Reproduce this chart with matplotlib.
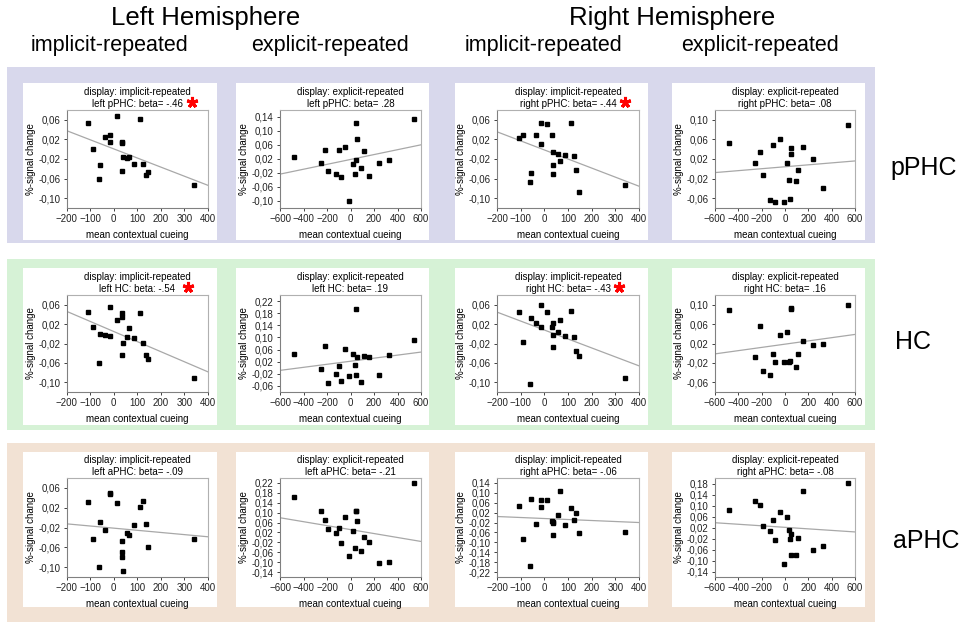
"""
Contextual cueing vs. %-signal change, left/right hemisphere,
pPHC / HC / aPHC, implicit- and explicit-repeated displays
"""

import numpy as np
import matplotlib
matplotlib.use('Agg')
import matplotlib.pyplot as plt
from matplotlib.patches import Rectangle
from matplotlib.ticker import FuncFormatter, MultipleLocator

plt.rcParams['font.family'] = ['Liberation Sans', 'DejaVu Sans']

# mean contextual cueing per subject (same subjects in every region)
imp_x = [-108, -89, -61, -57, -37, -16, -14, 13, 34, 35, 37, 38, 58, 67, 87, 112, 126, 135, 146, 339]
exp_x = [-481, -253, -216, -191, -125, -102, -85, -46, -11, 20, 37, 43, 48, 54, 91, 111, 154, 242, 324, 538]

# %-signal change, implicit-repeated displays
left_pphc_imp = [0.053, 0.001, -0.061, -0.033, 0.025, 0.029, 0.015, 0.068, 0.014, -0.045,
                 0.013, -0.016, -0.018, -0.015, -0.031, 0.061, -0.031, -0.052, -0.047, -0.073]
right_pphc_imp = [0.022, 0.029, -0.066, -0.048, 0.028, 0.053, 0.011, 0.052, 0.030, -0.051,
                  -0.005, -0.032, -0.009, -0.024, -0.012, 0.053, -0.013, -0.042, -0.088, -0.074]
left_hc_imp = [0.045, 0.014, -0.061, -0.001, -0.003, -0.005, 0.055, 0.028, 0.035, -0.044,
               0.043, -0.019, -0.007, 0.011, -0.009, 0.042, -0.019, -0.043, -0.051, -0.091]
right_hc_imp = [0.045, -0.017, -0.103, 0.032, 0.023, 0.059, 0.015, 0.045, 0.014, -0.028,
                -0.002, 0.022, 0.004, 0.028, -0.005, 0.046, -0.007, -0.035, -0.045, -0.091]
left_aphc_imp = [0.032, -0.043, -0.100, -0.009, -0.026, 0.050, 0.048, 0.030, -0.070, -0.079,
                 -0.048, -0.107, -0.031, -0.035, -0.015, 0.022, 0.034, -0.012, -0.060, -0.044]
right_aphc_imp = [0.046, -0.085, -0.194, 0.076, -0.025, 0.070, 0.042, 0.070, -0.013, -0.022,
                  -0.072, -0.018, 0.010, 0.108, -0.028, 0.039, -0.011, 0.020, -0.061, -0.060]

# %-signal change, explicit-repeated displays
left_pphc_exp = [0.025, 0.008, 0.047, -0.013, -0.022, 0.047, -0.032, 0.054, -0.099, 0.006,
                 -0.022, 0.017, 0.124, 0.077, -0.006, 0.042, -0.028, 0.008, 0.017, 0.134]
right_pphc_exp = [0.052, 0.011, 0.035, -0.012, -0.064, 0.049, -0.067, 0.060, -0.068, 0.012,
                  -0.023, -0.061, 0.043, 0.031, -0.024, -0.003, 0.045, 0.020, -0.040, 0.090]
left_hc_exp = [0.046, -0.003, 0.071, -0.050, -0.020, 0.006, -0.044, 0.062, -0.027, 0.046,
               0.010, -0.025, 0.194, 0.037, -0.047, 0.039, 0.034, -0.025, 0.043, 0.091]
right_hc_exp = [0.089, -0.007, 0.056, -0.037, -0.045, -0.002, -0.018, 0.037, -0.018, 0.043,
                -0.018, -0.016, 0.091, 0.093, -0.028, -0.002, 0.025, 0.016, 0.019, 0.100]
left_aphc_exp = [0.163, 0.105, 0.072, 0.033, 0.019, 0.036, -0.021, 0.083, -0.077, 0.027,
                 -0.044, 0.105, 0.105, 0.067, -0.056, 0.003, -0.017, -0.103, -0.101, 0.220]
right_aphc_exp = [0.082, 0.116, 0.102, 0.024, 0.007, 0.048, -0.025, 0.075, -0.112, 0.058,
                  0.012, -0.022, -0.081, -0.005, -0.079, -0.018, 0.152, -0.062, -0.046, 0.182]

regions = ['pPHC', 'HC', 'aPHC']
conditions = ['implicit-repeated', 'explicit-repeated', 'implicit-repeated', 'explicit-repeated']
hemis = ['left', 'left', 'right', 'right']

panel_y = [
    [left_pphc_imp, left_pphc_exp, right_pphc_imp, right_pphc_exp],
    [left_hc_imp, left_hc_exp, right_hc_imp, right_hc_exp],
    [left_aphc_imp, left_aphc_exp, right_aphc_imp, right_aphc_exp],
]
betas = [
    ['beta= -.46', 'beta= .28', 'beta= -.44', 'beta= .08'],
    ['beta: -.54', 'beta= .19', 'beta= -.43', 'beta= .16'],
    ['beta= -.09', 'beta= -.21', 'beta= -.06', 'beta= -.08'],
]
significant = [
    [True, False, True, False],
    [True, False, True, False],
    [False, False, False, False],
]
ylims = [
    [(-0.12, 0.08), (-0.12, 0.16), (-0.12, 0.08), (-0.08, 0.12)],
    [(-0.12, 0.08), (-0.08, 0.24), (-0.12, 0.08), (-0.08, 0.12)],
    [(-0.12, 0.08), (-0.16, 0.24), (-0.24, 0.16), (-0.16, 0.20)],
]

# layout in pixels
W, H = 964, 629
col_left = [66.5, 280, 497, 715]
col_right = [208, 421, 639, 855]
row_top = [110, 295, 478]
row_bot = [208, 392, 577]
band_y = [(67, 243), (259, 430), (443, 622)]
band_colors = ['#d8d8ec', '#d6f2d6', '#f2e2d4']
panel_x = [(23, 217), (236, 429), (455, 648), (672, 865)]
panel_yy = [(83, 240), (268, 425), (452, 607)]
star_x = [[0.89, 0, 0.90, 0], [0.86, 0, 0.86, 0], [0, 0, 0, 0]]


def comma(v, pos):
    return ('%.2f' % v).replace('.', ',')


fig = plt.figure(figsize=(W / 100, H / 100), dpi=100)

for r in range(3):
    y0, y1 = band_y[r]
    fig.patches.append(Rectangle((7 / W, 1 - y1 / H), (875 - 7) / W, (y1 - y0) / H,
                                 transform=fig.transFigure, color=band_colors[r],
                                 zorder=-3, lw=0))
    for c in range(4):
        px0, px1 = panel_x[c]
        py0, py1 = panel_yy[r]
        fig.patches.append(Rectangle((px0 / W, 1 - py1 / H), (px1 - px0) / W, (py1 - py0) / H,
                                     transform=fig.transFigure, color='white',
                                     zorder=-2, lw=0))

for r in range(3):
    for c in range(4):
        wpx = col_right[c] - col_left[c]
        hpx = row_bot[r] - row_top[r]
        ax = fig.add_axes([col_left[c] / W, 1 - row_bot[r] / H, wpx / W, hpx / H])
        xs = np.array(imp_x if c in (0, 2) else exp_x)
        ys = np.array(panel_y[r][c])
        xlim = (-200, 400) if c in (0, 2) else (-600, 600)

        k, b = np.polyfit(xs, ys, 1)
        lx = np.array(xlim)
        ax.plot(lx, k * lx + b, color='#a8a8a8', lw=0.9, zorder=1)
        ax.plot(xs, ys, 's', color='black', ms=3.2, zorder=2)

        ax.set_xlim(xlim)
        ax.set_ylim(ylims[r][c])
        ax.xaxis.set_major_locator(MultipleLocator(100 if c in (0, 2) else 200))
        lo = ylims[r][c][0]
        ax.set_yticks(np.arange(lo + 0.02, ylims[r][c][1] - 0.001, 0.04))
        ax.yaxis.set_major_formatter(FuncFormatter(comma))
        ax.tick_params(labelsize=7, length=2, width=0.6, pad=2.5, colors='#222222')
        for side in ['top', 'right']:
            ax.spines[side].set_color('#b0b0b0')
        for side in ['left', 'bottom']:
            ax.spines[side].set_color('#808080')
        for s in ax.spines.values():
            s.set_linewidth(0.8)

        ax.set_xlabel('mean contextual cueing', fontsize=7)
        ax.set_ylabel('%-signal change', fontsize=7)
        ax.xaxis.set_label_coords(0.5, -27 / hpx)
        ax.xaxis.label.set_va('center')
        ax.yaxis.set_label_coords(-36 / wpx, 0.5)
        ax.yaxis.label.set_va('center')

        ax.set_title('display: %s\n%s %s: %s' % (conditions[c], hemis[c], regions[r], betas[r][c]),
                     fontsize=7, pad=2.5, linespacing=1.15)
        if significant[r][c]:
            ax.plot([star_x[r][c]], [1.085], transform=ax.transAxes, marker=(5, 2, 0),
                    ms=8, mew=2.2, color='red', clip_on=False)

# column and row headers
fig.text(206 / W, 1 - 25 / H, 'Left Hemisphere', fontsize=18.5, ha='center', va='baseline')
fig.text(672 / W, 1 - 25 / H, 'Right Hemisphere', fontsize=18.5, ha='center', va='baseline')
for cx, cond in zip([109, 330, 543, 760], conditions):
    fig.text(cx / W, 1 - 50.5 / H, cond, fontsize=15.5, ha='center', va='baseline')
for (rx, ry), reg in zip([(924, 175), (913, 349), (926, 548)], regions):
    fig.text(rx / W, 1 - ry / H, reg, fontsize=18, ha='center', va='baseline')

plt.savefig('out.png', dpi=100)
